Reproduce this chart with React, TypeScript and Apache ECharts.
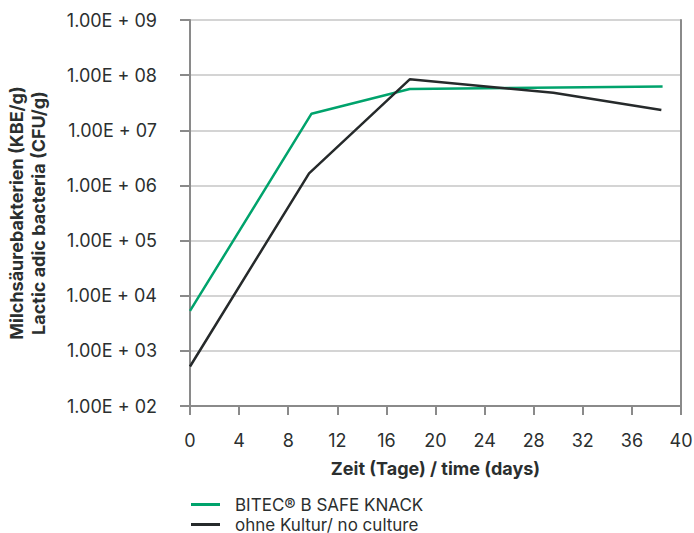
import React, { useEffect, useRef } from "react";
import * as echarts from "echarts";

const seriesNames = ["BITEC® B SAFE KNACK", "ohne Kultur/ no culture"];
const greenDays = [0, 9.9, 17.9, 38.5];
const greenValues = [5.3e3, 2.0e7, 5.6e7, 6.2e7];
const blackDays = [0, 9.7, 17.9, 29.6, 38.4];
const blackValues = [5.2e2, 1.66e6, 8.4e7, 4.8e7, 2.33e7];
const xTicks = [0, 4, 8, 12, 16, 20, 24, 28, 32, 36, 40];

const FONT = "Inter, 'Noto Sans', sans-serif";
const GREEN = "#00a36c";
const BLACK = "#262a2b";

export default function App() {
  const ref = useRef<HTMLDivElement>(null);
  useEffect(() => {
    if (!ref.current) return;
    const chart = echarts.init(ref.current, null, { renderer: "svg" });
    const yFmt = (v: number) => {
      const e = Math.round(Math.log10(v));
      return "1.00E + " + String(e).padStart(2, "0");
    };
    const legendBase = {
      orient: "vertical",
      left: 191,
      itemWidth: 29,
      itemHeight: 3,
      icon: "rect",
      padding: 0,
      textStyle: {
        fontFamily: FONT,
        fontSize: 17,
        lineHeight: 17,
        color: "#2b2f2f",
        padding: [0, 0, 0, 10],
      },
    };
    chart.setOption({
      animation: false,
      textStyle: { fontFamily: FONT },
      grid: { left: 190, right: 13, top: 20, bottom: 127, outerBoundsMode: "none", containLabel: false },
      legend: [
        { ...legendBase, top: 496, data: [seriesNames[0]] },
        { ...legendBase, top: 516, data: [seriesNames[1]] },
      ],
      xAxis: {
        type: "value",
        min: xTicks[0],
        max: xTicks[xTicks.length - 1],
        interval: 4,
        name: "Zeit (Tage) / time (days)",
        nameLocation: "middle",
        nameGap: 53,
        nameTextStyle: { fontFamily: FONT, fontSize: 18, fontWeight: "bold", color: "#2b2f2f" },
        axisLine: { show: true, lineStyle: { color: "#8a8a8a", width: 2 } },
        axisTick: { show: true, length: 9, lineStyle: { color: "#8a8a8a", width: 2 } },
        axisLabel: { fontSize: 18, color: "#2b2f2f", margin: 25, fontFamily: FONT },
        splitLine: { show: false },
      },
      yAxis: [
        {
          type: "log",
          logBase: 10,
          min: 1e2,
          max: 1e9,
          name: "Milchsäurebakterien (KBE/g)\nLactic adic bacteria (CFU/g)",
          nameLocation: "middle",
          nameGap: 141,
          nameTextStyle: {
            fontFamily: FONT,
            fontSize: 18,
            fontWeight: "bold",
            color: "#2b2f2f",
            lineHeight: 22,
          },
          axisLine: { show: true, lineStyle: { color: "#8a8a8a", width: 2 } },
          axisTick: { show: true, length: 10, lineStyle: { color: "#8a8a8a", width: 2 } },
          axisLabel: { formatter: yFmt, fontSize: 18, color: "#2b2f2f", margin: 33, fontFamily: FONT },
          splitLine: { show: true, lineStyle: { color: "#d4d4d4", width: 2 } },
        },
        {
          type: "log",
          logBase: 10,
          min: 1e2,
          max: 1e9,
          position: "right",
          axisLine: { show: true, lineStyle: { color: "#8a8a8a", width: 2 } },
          axisTick: { show: false },
          axisLabel: { show: false },
          splitLine: { show: false },
        },
      ],
      series: [
        {
          name: seriesNames[0],
          type: "line",
          data: greenDays.map((d, i) => [d, greenValues[i]]),
          showSymbol: false,
          lineStyle: { color: GREEN, width: 2.5 },
          itemStyle: { color: GREEN },
        },
        {
          name: seriesNames[1],
          type: "line",
          data: blackDays.map((d, i) => [d, blackValues[i]]),
          showSymbol: false,
          lineStyle: { color: BLACK, width: 2.5 },
          itemStyle: { color: BLACK },
        },
      ],
    });
    return () => chart.dispose();
  }, []);
  return <div ref={ref} style={{ width: 694, height: 533, position: "absolute", left: 0, top: 0 }} />;
}
